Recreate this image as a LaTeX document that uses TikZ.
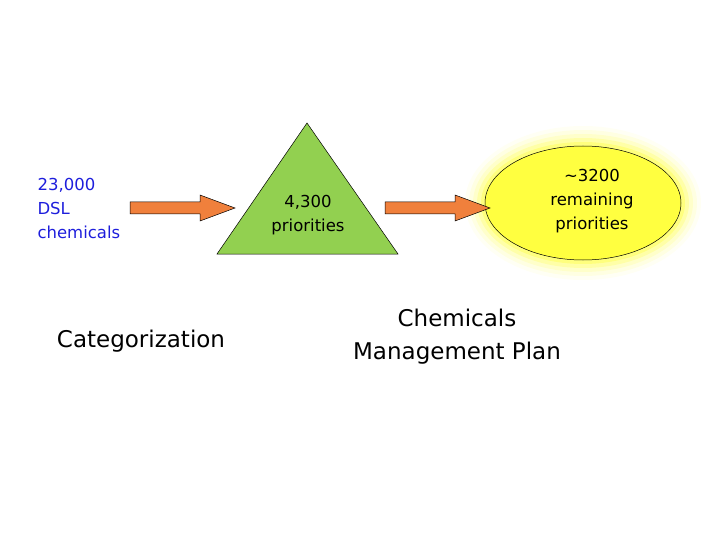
\documentclass[tikz,border=0pt]{standalone}
\usepackage{fontspec}
\setmainfont{DejaVu Sans}
\usetikzlibrary{shapes.geometric}
\definecolor{arr}{RGB}{240,128,60}
\definecolor{tri}{RGB}{146,208,80}
\definecolor{ell}{RGB}{255,255,64}
\definecolor{txtblue}{RGB}{30,30,220}
\tikzset{
  bigarrow/.style={draw=black, line width=0.5pt, fill=arr},
  lbl/.style={align=center, font=\fontsize{16.5}{24}\selectfont},
  big/.style={align=center, font=\fontsize{23}{33}\selectfont}
}
\newcommand{\myarrow}[2]{% start x, y
  \path[bigarrow] (#1,#2-6) -- (#1+70,#2-6) -- (#1+70,#2-13) -- (#1+105,#2) -- (#1+70,#2+13) -- (#1+70,#2+6) -- (#1,#2+6) -- cycle;}
\begin{document}
\begin{tikzpicture}[x=1pt,y=-1pt]
\useasboundingbox (0,0) rectangle (720,540);
\node[lbl, align=left, text=txtblue, anchor=west] (dsl) at (34,208) {23,000\\DSL\\chemicals};
\myarrow{130}{208}
\path[draw=black, line width=0.5pt, fill=tri] (307,123) -- (398,254) -- (217,254) -- cycle;
\node[lbl] (tri) at (308,215) {4,300\\priorities};
\foreach \w/\o in {20/0.06,16/0.1,12/0.15,8/0.25,4/0.4}
  \fill[ell, opacity=\o] (583,203) ellipse ({98+\w} and {57+\w});
\node[ellipse, draw=black, line width=0.5pt, fill=ell, minimum width=196pt, minimum height=114pt] (el) at (583,203) {};
\myarrow{385}{208}
\node[lbl] (eltxt) at (592,201) {\textasciitilde3200\\remaining\\priorities};
\node[big] (cat) at (141,341) {Categorization};
\node[big] (cmp) at (457,337) {Chemicals\\Management Plan};
\end{tikzpicture}
\end{document}
